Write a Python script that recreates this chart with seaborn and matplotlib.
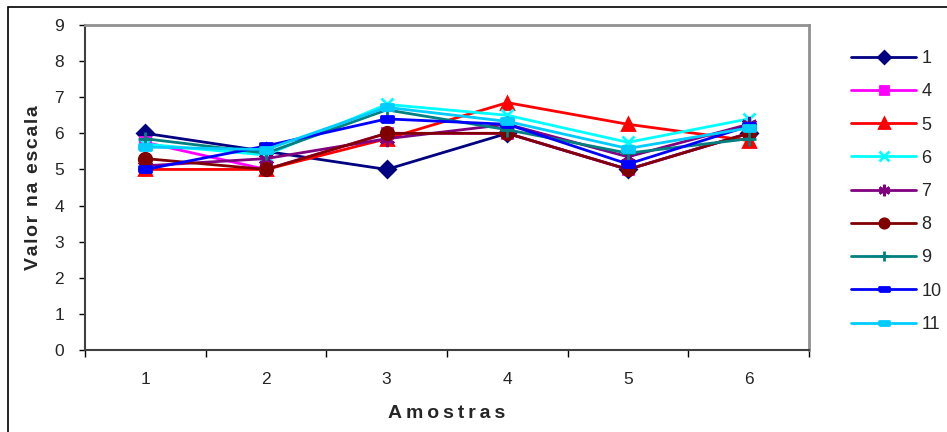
import matplotlib
import matplotlib.pyplot as plt
import numpy as np
import pandas as pd
import seaborn as sns
from matplotlib.patches import Rectangle
from matplotlib.path import Path

matplotlib.use("Agg")

# Dados
amostras = [1, 2, 3, 4, 5, 6]
series = ["1", "4", "5", "6", "7", "8", "9", "10", "11"]
v1 = [6.0, 5.5, 5.0, 6.0, 5.0, 6.0]
v4 = [5.75, 5.0, 6.0, 6.0, 5.0, 6.0]
v5 = [5.0, 5.0, 5.85, 6.85, 6.25, 5.8]
v6 = [5.7, 5.4, 6.8, 6.5, 5.75, 6.4]
v7 = [5.1, 5.3, 5.85, 6.25, 5.35, 6.25]
v8 = [5.3, 5.0, 6.0, 6.0, 5.0, 6.0]
v9 = [5.85, 5.45, 6.65, 6.1, 5.45, 5.85]
v10 = [5.0, 5.65, 6.4, 6.25, 5.15, 6.2]
v11 = [5.62, 5.55, 6.72, 6.33, 5.58, 6.15]
valores = [v1, v4, v5, v6, v7, v8, v9, v10, v11]

cores = ["#000080", "#FF00FF", "#FF0000", "#00FFFF", "#800080",
         "#800000", "#008080", "#0000FF", "#00CCFF"]
dash = Path([(-1, -0.45), (1, -0.45), (1, 0.45), (-1, 0.45), (-1, -0.45)])
marcadores = ["D", "s", "^", "x", (6, 2, 0), "o", "+", dash, dash]
tamanhos = [8, 7, 9, 9, 11, 9, 10, 9, 9]

df = pd.DataFrame({
    "Amostra": np.tile(amostras, len(series)),
    "Serie": np.repeat(series, len(amostras)),
    "Valor": np.concatenate(valores),
})

sns.set_style("white")
plt.rcParams["font.family"] = ["Liberation Sans", "DejaVu Sans"]

fig = plt.figure(figsize=(9.47, 4.32), dpi=100)
ax = fig.add_axes([85 / 947, 1 - 350 / 432, (809 - 85) / 947, (350 - 25) / 432])

for s, cor, mk, ms in zip(series, cores, marcadores, tamanhos):
    sub = df[df["Serie"] == s]
    sns.lineplot(data=sub, x="Amostra", y="Valor", ax=ax, color=cor,
                 marker=mk, markersize=ms, markeredgecolor=cor,
                 markerfacecolor=cor, markeredgewidth=2, linewidth=2,
                 label=s)

ax.set_xlim(0.5, 6.5)
ax.set_ylim(0, 9)
ax.set_yticks(range(0, 10))
ax.set_xticks(amostras)
ax.set_xticks(np.arange(0.5, 7, 1), minor=True)
ax.tick_params(axis="x", which="major", length=0, pad=16, labelsize=12.5)
ax.tick_params(axis="x", which="minor", length=5, width=1, color="#000000",
               direction="out", bottom=True)
ax.tick_params(axis="y", length=4, width=1, color="#000000", pad=11,
               labelsize=12.5, left=True)

for lado in ["left", "bottom"]:
    ax.spines[lado].set_color("#404040")
    ax.spines[lado].set_linewidth(1.5)
for lado in ["top", "right"]:
    ax.spines[lado].set_color("#909090")
    ax.spines[lado].set_linewidth(2)

# espaçamento largo entre letras, como no original
ax.set_xlabel("\u2009".join("Amostras"), fontsize=14, fontweight="bold")
ax.set_ylabel("\u200a".join("Valor na escala"), fontsize=14,
              fontweight="bold")
ax.xaxis.set_label_coords(0.5, -0.17)
ax.yaxis.set_label_coords(-0.06, 0.5)

leg = ax.legend(loc="upper left", bbox_to_anchor=(851 / 947, 1 - 50 / 432),
                bbox_transform=fig.transFigure, frameon=False, fontsize=13,
                handlelength=3.6, labelspacing=0.9, handletextpad=0.3,
                borderpad=0, borderaxespad=0, markerscale=0.75)

fig.patches.append(Rectangle((8 / 947, -0.1), 1.2, 1 - 7 / 432 + 0.1,
                             transform=fig.transFigure, fill=False,
                             edgecolor="black", linewidth=1.2))

fig.savefig("out.png", dpi=100)
